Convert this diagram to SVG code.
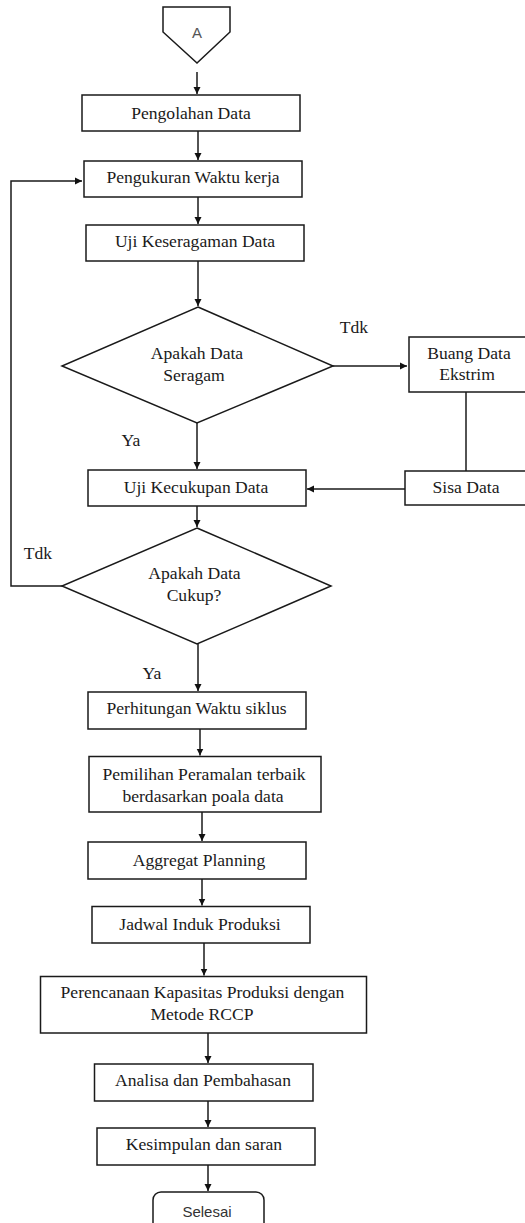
<svg xmlns="http://www.w3.org/2000/svg" width="525" height="1223" viewBox="0 0 525 1223">
<defs>
<marker id="ah" markerUnits="userSpaceOnUse" markerWidth="8" markerHeight="8" refX="7" refY="4" orient="auto">
<path d="M0,0.5 L7,4 L0,7.5 z" fill="#111"/>
</marker>
<style>
.box{fill:#fff;stroke:#1a1a1a;stroke-width:1.5}
.t{font-size:17.6px;fill:#1a1a1a;text-anchor:middle}
.s{font-size:15px;fill:#333;text-anchor:middle}
.c{fill:none;stroke:#1a1a1a;stroke-width:1.5}
.ca{fill:none;stroke:#1a1a1a;stroke-width:1.5;marker-end:url(#ah)}
</style>
</defs>
<rect width="525" height="1223" fill="#fff"/>

<g id="connectors" font-family="Liberation Serif, Tinos, DejaVu Serif, serif">
<line class="ca" x1="197" y1="72" x2="197" y2="94"/>
<line class="ca" x1="198" y1="131" x2="198" y2="160"/>
<line class="ca" x1="198" y1="197" x2="198" y2="224"/>
<line class="ca" x1="198" y1="261" x2="198" y2="306"/>
<line class="ca" x1="333" y1="366" x2="407" y2="366"/>
<line class="c" x1="466" y1="392" x2="466" y2="471"/>
<line class="ca" x1="405" y1="489" x2="307" y2="489"/>
<line class="ca" x1="197" y1="423" x2="197" y2="469"/>
<line class="ca" x1="197" y1="506" x2="197" y2="527"/>
<polyline class="ca" points="62,586 11,586 11,181 82,181"/>
<line class="ca" x1="198" y1="644" x2="198" y2="691"/>
<line class="ca" x1="200" y1="729" x2="200" y2="755.5"/>
<line class="ca" x1="202" y1="812" x2="202" y2="841"/>
<line class="ca" x1="202" y1="879" x2="202" y2="905.5"/>
<line class="ca" x1="204" y1="943" x2="204" y2="975.5"/>
<line class="ca" x1="208" y1="1033" x2="208" y2="1063"/>
<line class="ca" x1="208" y1="1101" x2="208" y2="1127"/>
<line class="ca" x1="208" y1="1165" x2="208" y2="1191"/>
<text class="t" x="354" y="333">Tdk</text>
<text class="t" x="131" y="446">Ya</text>
<text class="t" x="38" y="559">Tdk</text>
<text class="t" x="152" y="679">Ya</text>
</g>

<g id="nodes" font-family="Liberation Serif, Tinos, DejaVu Serif, serif">
<g id="start-A">
<polygon class="box" points="163,7 230,7 230,32 197,63 163,32"/>
<text class="s" x="197" y="38" font-family="Liberation Sans, Arimo, sans-serif" style="fill:#555">A</text>
</g>
<g id="pengolahan">
<rect class="box" x="82" y="95" width="218" height="36"/>
<text class="t" x="191" y="118.5">Pengolahan Data</text>
</g>
<g id="pengukuran">
<rect class="box" x="84" y="161" width="218" height="36"/>
<text class="t" x="193" y="183">Pengukuran Waktu kerja</text>
</g>
<g id="keseragaman">
<rect class="box" x="86" y="225" width="218" height="36"/>
<text class="t" x="195" y="247">Uji Keseragaman Data</text>
</g>
<g id="decision-seragam">
<polygon class="box" points="198,307 333,366 197,423 62,366"/>
<text class="t" x="197" y="359">Apakah Data</text>
<text class="t" x="194" y="381">Seragam</text>
</g>
<g id="buang">
<rect class="box" x="409" y="337" width="120" height="55"/>
<text class="t" x="469" y="359">Buang Data</text>
<text class="t" x="467" y="380">Ekstrim</text>
</g>
<g id="sisa">
<rect class="box" x="405" y="471" width="124" height="34"/>
<text class="t" x="466" y="493">Sisa Data</text>
</g>
<g id="kecukupan">
<rect class="box" x="88" y="470" width="218" height="36"/>
<text class="t" x="196" y="493">Uji Kecukupan Data</text>
</g>
<g id="decision-cukup">
<polygon class="box" points="197,528 331,586 197,644 62,586"/>
<text class="t" x="194.5" y="579">Apakah Data</text>
<text class="t" x="194" y="600.5">Cukup?</text>
</g>
<g id="perhitungan">
<rect class="box" x="88" y="692" width="218" height="37"/>
<text class="t" x="196.5" y="713.5">Perhitungan Waktu siklus</text>
</g>
<g id="pemilihan">
<rect class="box" x="89" y="756.5" width="232" height="55.5"/>
<text class="t" x="204" y="779.5">Pemilihan Peramalan terbaik</text>
<text class="t" x="203" y="801.5">berdasarkan poala data</text>
</g>
<g id="aggregat">
<rect class="box" x="88" y="842" width="218" height="37"/>
<text class="t" x="199" y="866">Aggregat Planning</text>
</g>
<g id="jadwal">
<rect class="box" x="92" y="906.5" width="218" height="36.5"/>
<text class="t" x="200" y="930">Jadwal Induk Produksi</text>
</g>
<g id="perencanaan">
<rect class="box" x="40.5" y="976.5" width="326" height="56.5"/>
<text class="t" x="202.5" y="997.5">Perencanaan Kapasitas Produksi dengan</text>
<text class="t" x="202" y="1020">Metode RCCP</text>
</g>
<g id="analisa">
<rect class="box" x="94.5" y="1064" width="218.5" height="37"/>
<text class="t" x="203" y="1086">Analisa dan Pembahasan</text>
</g>
<g id="kesimpulan">
<rect class="box" x="97" y="1128" width="218" height="37"/>
<text class="t" x="204" y="1150">Kesimpulan dan saran</text>
</g>
<g id="selesai">
<rect class="box" x="153" y="1192" width="111" height="45" rx="8" ry="8"/>
<text class="s" x="207" y="1217" font-family="Liberation Sans, Arimo, sans-serif">Selesai</text>
</g>
</g>
</svg>
